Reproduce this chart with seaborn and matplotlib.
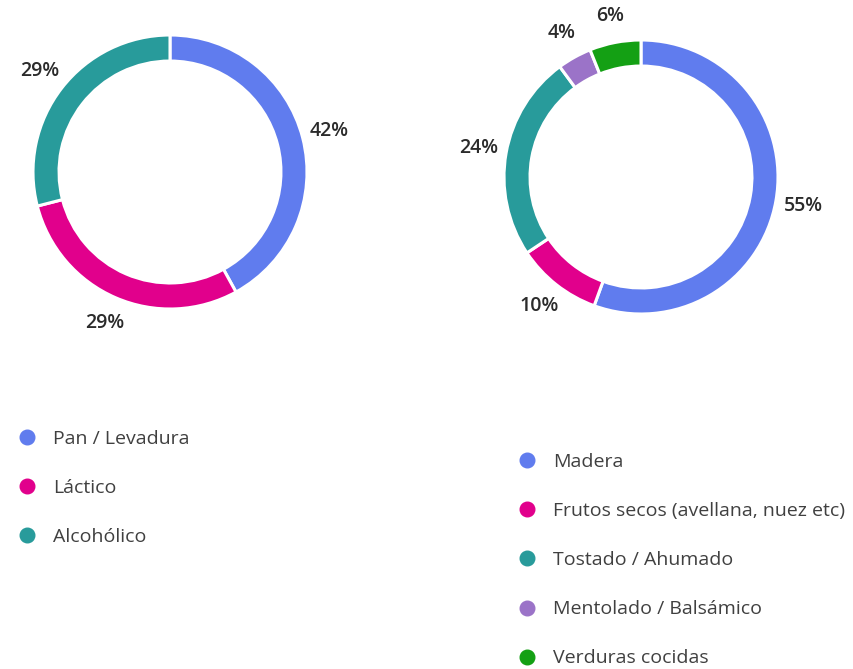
import matplotlib
matplotlib.use("Agg")
import matplotlib.pyplot as plt
import seaborn as sns
from matplotlib.lines import Line2D

# data (percentages as shown on the chart)
left_labels = ["Pan / Levadura", "Láctico", "Alcohólico"]
left_values = [42, 29, 29]
left_colors = ["#607CEE", "#E1008C", "#289B9B"]

right_labels = ["Madera", "Frutos secos (avellana, nuez etc)", "Tostado / Ahumado",
                "Mentolado / Balsámico", "Verduras cocidas"]
right_values = [55, 10, 24, 4, 6]
right_colors = ["#607CEE", "#E1008C", "#289B9B", "#9B73C8", "#14A014"]

sns.set_theme(style="white")
plt.rcParams["font.family"] = ["Open Sans", "DejaVu Sans"]

W, H = 854, 669
fig = plt.figure(figsize=(W / 100, H / 100), dpi=100)

R = 137      # outer radius in px
LIM = 1.4    # axis half-range in radius units
half = LIM * R


def donut(cx, cy, values, colors):
    ax = fig.add_axes([(cx - half) / W, (H - cy - half) / H, 2 * half / W, 2 * half / H])
    ax.pie(values, colors=colors, startangle=90, counterclock=False,
           labels=[f"{v}%" for v in values], labeldistance=1.2,
           wedgeprops=dict(width=0.19, edgecolor="white", linewidth=2.2),
           textprops=dict(color="#2B2B2B", fontsize=14, fontweight="semibold"))
    for t in ax.texts:
        t.set_ha("center")
        t.set_va("center")
    ax.set_xlim(-LIM, LIM)
    ax.set_ylim(-LIM, LIM)
    ax.set_aspect("equal")
    ax.axis("off")
    return ax


donut(170, 172, left_values, left_colors)
donut(641, 177, right_values, right_colors)


def legend(labels, colors, x, y):
    handles = [Line2D([], [], marker="o", linestyle="", markersize=10.5, color=c) for c in colors]
    fig.legend(handles, labels, loc="upper left", bbox_to_anchor=(x / W, 1 - y / H),
               frameon=False, borderpad=0, borderaxespad=0, handlelength=1.0,
               handletextpad=0.84, labelspacing=1.6, fontsize=14, labelcolor="#404040")


legend(left_labels, left_colors, 17, 430)
legend(right_labels, right_colors, 517, 453)

fig.savefig("out.png", dpi=100, facecolor="white")
